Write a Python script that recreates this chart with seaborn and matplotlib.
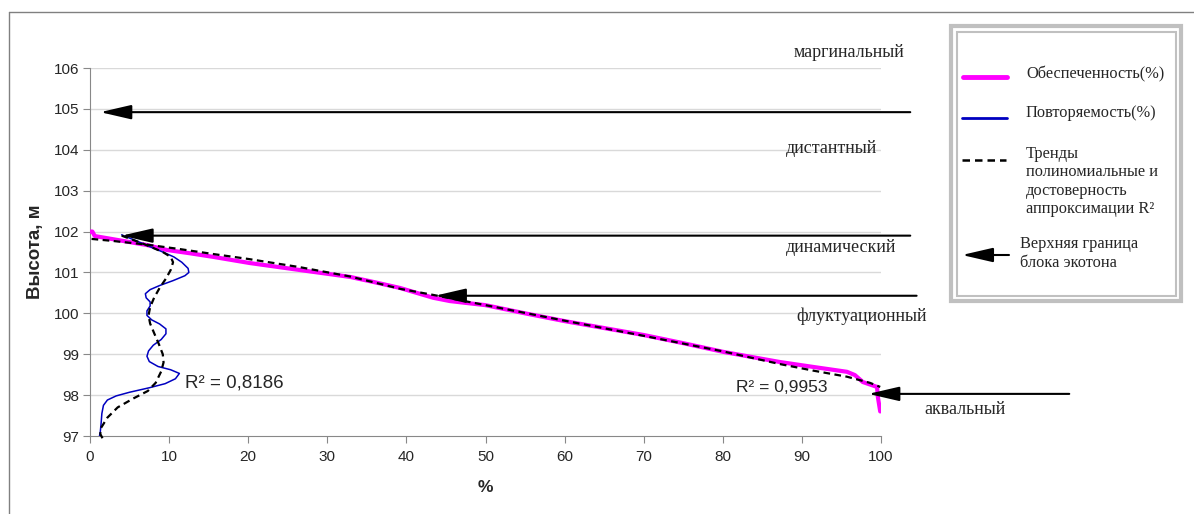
import numpy as np
import pandas as pd
import seaborn as sns
import matplotlib.pyplot as plt
from matplotlib.patches import Rectangle
from matplotlib.lines import Line2D

# supply curve (Обеспеченность, %)
supply_pct = [0, 0.3, 0.6, 2.1, 4.2, 7.2, 9.7, 12.6, 15.6, 20.2, 26.5, 32.9, 36.0, 39.2,
              43.4, 45.5, 50, 55, 60, 65, 70, 75, 80, 84, 87.2, 91.4, 95.7, 96.7, 97.7,
              99.5, 99.6, 99.9]
supply_h = [102.0, 102.0, 101.89, 101.84, 101.77, 101.67, 101.55, 101.47, 101.38, 101.23,
            101.06, 100.89, 100.76, 100.62, 100.38, 100.30, 100.2, 100.0, 99.81, 99.64,
            99.47, 99.27, 99.06, 98.92, 98.81, 98.69, 98.57, 98.49, 98.32, 98.2, 97.96, 97.6]

# trend for supply
supply_trend_pct = [0.2, 2.9, 7.2, 11.4, 15.6, 20, 26.5, 32.9, 39.2, 43.4, 50, 60, 70, 80,
                    87.2, 91.4, 95.7, 98.6, 99.9]
supply_trend_h = [101.82, 101.77, 101.68, 101.57, 101.45, 101.33, 101.13, 100.9, 100.6,
                  100.45, 100.2, 99.82, 99.45, 99.07, 98.76, 98.6, 98.45, 98.3, 98.2]

# repeatability curve (Повторяемость, %)
repeat_pct = [4.0, 6.5, 9.2, 10.6, 11.6, 12.4, 12.5, 12.0, 10.5, 8.8, 7.6, 7.0, 7.1, 7.6,
              7.6, 7.2, 7.2, 7.8, 8.8, 9.6, 9.6, 9.0, 8.0, 7.4, 7.2, 7.5, 8.6, 10.2, 11.3,
              10.8, 9.5, 7.5, 5.0, 3.3, 2.2, 1.7, 1.5, 1.4, 1.3, 1.2]
repeat_h = [101.92, 101.72, 101.5, 101.38, 101.25, 101.1, 101.0, 100.92, 100.8, 100.68,
            100.58, 100.48, 100.38, 100.28, 100.18, 100.06, 99.95, 99.84, 99.74, 99.62,
            99.5, 99.36, 99.22, 99.08, 98.95, 98.82, 98.7, 98.62, 98.53, 98.4, 98.28,
            98.18, 98.07, 97.98, 97.88, 97.75, 97.55, 97.3, 97.1, 97.0]

# trend for repeatability
repeat_trend_pct = [4.0, 6.5, 9.2, 10.2, 10.5, 10.2, 9.6, 8.8, 8.1, 7.6, 7.4, 7.6, 8.1, 8.7,
                    9.2, 9.3, 9.0, 8.3, 7.3, 5.5, 3.5, 2.2, 1.4, 1.3, 1.7]
repeat_trend_h = [101.9, 101.72, 101.5, 101.38, 101.25, 101.06, 100.85, 100.62, 100.38,
                  100.15, 99.95, 99.75, 99.52, 99.25, 99.0, 98.8, 98.58, 98.3, 98.1, 97.92,
                  97.7, 97.45, 97.2, 97.05, 96.9]

# ecotone block upper boundaries (arrows)
boundary_h = [104.92, 101.9, 100.43, 98.03]
arrow_tip = [1.3, 4.0, 43.6, 98.4]
arrow_tail = [103.7, 103.7, 104.5, 123.8]

zone_names = ["маргинальный", "дистантный", "динамический", "флуктуационный", "аквальный"]
zone_x = [96.0, 93.8, 94.9, 97.5, 110.6]
zone_y = [106.39, 104.04, 101.6, 99.94, 97.66]

r2_texts = ["R² = 0,8186", "R² = 0,9953"]

sns.set_style("white")
plt.rcParams['font.family'] = ['Liberation Sans', 'DejaVu Sans']

fig = plt.figure(figsize=(11.94, 5.14), dpi=100)
ax = fig.add_axes([90 / 1194, 78 / 514, 791 / 1194, 368 / 514])

magenta = "#ff00ff"
blue = "#0000c0"

sns.lineplot(x=supply_pct, y=supply_h, sort=False, estimator=None, color=magenta,
             lw=3, ax=ax, zorder=3)
sns.lineplot(x=supply_trend_pct, y=supply_trend_h, sort=False, estimator=None, color="black",
             lw=1.6, ax=ax, zorder=4)
sns.lineplot(x=repeat_pct, y=repeat_h, sort=False, estimator=None, color=blue,
             lw=1.1, ax=ax, zorder=3)
sns.lineplot(x=repeat_trend_pct, y=repeat_trend_h, sort=False, estimator=None, color="black",
             lw=1.6, ax=ax, zorder=4)
for ln in ax.lines[1::2]:
    ln.set_linestyle((0, (3, 2)))
ax.lines[3].set_clip_on(False)

ax.set_xlim(0, 100)
ax.set_ylim(97, 106)
ax.set_xticks(range(0, 101, 10))
ax.set_yticks(range(97, 107))
for yv in range(98, 107):
    ax.axhline(yv, color="#d9d9d9", lw=1, zorder=0)

for s in ["top", "right"]:
    ax.spines[s].set_visible(False)
for s in ["left", "bottom"]:
    ax.spines[s].set_color("#888888")
ax.tick_params(axis="both", direction="out", length=5, color="#888888", labelsize=11,
               bottom=True, left=True)
ax.tick_params(axis="x", pad=5)
ax.tick_params(axis="y", pad=3)

ax.set_xlabel("%", fontsize=12.5, fontweight="bold")
ax.set_ylabel("Высота, м", fontsize=13.5, fontweight="bold")
ax.xaxis.set_label_coords(0.5, -0.12)
ax.yaxis.set_label_coords(-0.058, 0.5)

# boundary arrows
for h, x0, x1 in zip(boundary_h, arrow_tail, arrow_tip):
    ax.annotate("", xy=(x1, h), xytext=(x0, h), annotation_clip=False,
                arrowprops=dict(arrowstyle="-|>,head_length=0.95,head_width=0.22",
                                mutation_scale=20, color="black", lw=1.5,
                                shrinkA=0, shrinkB=0), zorder=5)

for name, x, y in zip(zone_names, zone_x, zone_y):
    ax.text(x, y, name, ha="center", va="center", fontsize=13,
            family="Liberation Serif", clip_on=False)

ax.text(12.0, 98.3, r2_texts[0], fontsize=13.5, va="center", ha="left")
ax.text(81.7, 98.18, r2_texts[1], fontsize=12.5, va="center", ha="left")

# overlay in pixel coords for frame and legend
ov = fig.add_axes([0, 0, 1, 1], facecolor="none")
ov.set_xlim(0, 1194)
ov.set_ylim(514, 0)
ov.axis("off")
ov.add_line(Line2D([9, 9], [12, 520], color="#808080", lw=1))
ov.add_line(Line2D([9, 1200], [12, 12], color="#808080", lw=1))

ov.add_patch(Rectangle((951, 26), 230, 275, fill=False, ec="#c0c0c0", lw=3))
ov.add_patch(Rectangle((956.5, 31.5), 219, 264, fill=False, ec="#c0c0c0", lw=1.5))

ov.add_line(Line2D([963, 1007], [77, 77], color=magenta, lw=3.5))
ov.add_line(Line2D([962, 1007], [118, 118], color=blue, lw=2))
ov.add_line(Line2D([962, 1006], [160, 160], color="black", lw=1.8, ls=(0, (3, 2))))
ov.annotate("", xy=(962, 255), xytext=(1009, 255),
            arrowprops=dict(arrowstyle="-|>,head_length=0.95,head_width=0.22",
                            mutation_scale=20, color="black", lw=1.5, shrinkA=0, shrinkB=0))

leg_font = dict(fontsize=11.8, family="Liberation Serif", ha="left")
ov.text(1026, 74, "Обеспеченность(%)", va="center", **leg_font)
ov.text(1026, 113, "Повторяемость(%)", va="center", **leg_font)
ov.text(1026, 146, "Тренды\nполиномиальные и\nдостоверность\nаппроксимации R²",
        va="top", linespacing=1.2, **leg_font)
ov.text(1020, 236, "Верхняя граница\nблока экотона", va="top", linespacing=1.25, **leg_font)

fig.savefig("out.png", dpi=100)
